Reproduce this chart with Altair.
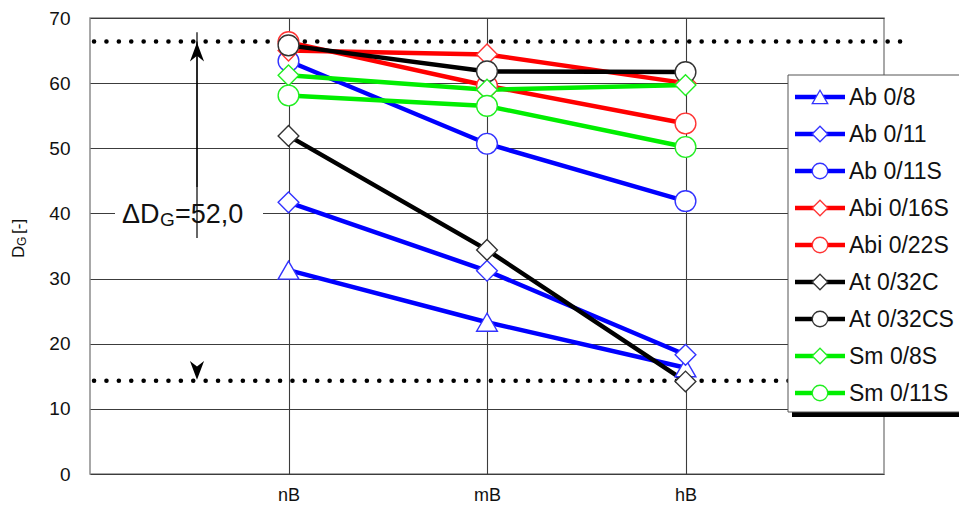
import altair as alt
import pandas as pd

# ---------------- data ----------------
categories = ["nB", "mB", "hB"]
series = ["Ab 0/8", "Ab 0/11", "Ab 0/11S", "Abi 0/16S", "Abi 0/22S",
          "At 0/32C", "At 0/32CS", "Sm 0/8S", "Sm 0/11S"]
ab_0_8 = [31.3, 23.3, 16.3]
ab_0_11 = [41.7, 31.2, 18.3]
ab_0_11s = [63.4, 50.7, 41.9]
abi_0_16s = [65.0, 64.4, 60.0]
abi_0_22s = [66.3, 59.6, 53.8]
at_0_32c = [51.9, 34.4, 14.2]
at_0_32cs = [65.8, 61.8, 61.7]
sm_0_8s = [61.2, 59.0, 59.7]
sm_0_11s = [58.1, 56.5, 50.2]
series_values = [ab_0_8, ab_0_11, ab_0_11s, abi_0_16s, abi_0_22s,
                 at_0_32c, at_0_32cs, sm_0_8s, sm_0_11s]

line_colors = ["#0000ff", "#0000ff", "#0000ff", "#ff0000", "#ff0000",
               "#000000", "#000000", "#00ee00", "#00ee00"]
marker_colors = ["#3333ff", "#3333ff", "#3333ff", "#ff3333", "#ff3333",
                 "#333333", "#333333", "#22ee22", "#22ee22"]
shapes = ["triangle-up", "diamond", "circle", "diamond", "circle",
          "diamond", "circle", "diamond", "circle"]

dg_max = 66.4
dg_min = 14.3
delta_label_value = "=52,0"
y_ticks = [0, 10, 20, 30, 40, 50, 60, 70]

FONT = "Liberation Sans"
W, H = 794, 456

rows = []
for i, (s, vals) in enumerate(zip(series, series_values)):
    for c, v in zip(categories, vals):
        rows.append({"series": s, "cat": c, "val": v, "idx": i})
df = pd.DataFrame(rows)

x_enc = alt.X("cat:O", scale=alt.Scale(type="point", padding=1, domain=categories),
              axis=alt.Axis(title=None, labelAngle=0, grid=True, gridColor="#3c3c3c",
                            gridWidth=1.1, domain=False, ticks=False, labelPadding=12,
                            labelFontSize=18, labelFont=FONT, labelColor="#111"))
y_enc = alt.Y("val:Q", scale=alt.Scale(domain=[0, 70], nice=False, zero=True),
              axis=alt.Axis(title=None, values=y_ticks, grid=True, gridColor="#3c3c3c",
                            gridWidth=1.1, domain=False, ticks=False, labelPadding=20,
                            labelFontSize=19, labelFont=FONT, labelColor="#111"))

base = alt.Chart(df)
lines = base.mark_line(strokeWidth=4.5).encode(
    x=x_enc, y=y_enc,
    color=alt.Color("series:N", scale=alt.Scale(domain=series, range=line_colors), legend=None),
    detail="series:N",
)
points = base.mark_point(filled=True, fill="white", strokeWidth=1.4, size=430, opacity=1).encode(
    x=x_enc, y=y_enc,
    stroke=alt.Stroke("series:N", scale=alt.Scale(domain=series, range=marker_colors), legend=None),
    shape=alt.Shape("series:N", scale=alt.Scale(domain=series, range=shapes), legend=None),
    order="idx:Q",
)

one = pd.DataFrame({"a": [0]})

# dotted reference lines
dots = []
for v in [dg_max, dg_min]:
    dots.append(alt.Chart(one).mark_rule(color="black", strokeWidth=4.5, strokeCap="round",
                                         strokeDash=[0.1, 12.3]).encode(
        x=alt.value(4), x2=alt.value(818), y=alt.datum(v)))

# white box behind annotation
white_box = alt.Chart(one).mark_rect(color="white").encode(
    x=alt.value(25), x2=alt.value(173), y=alt.value(184), y2=alt.value(208))

AX = 107
arrow_top = alt.Chart(one).mark_rule(color="black", strokeWidth=1.2).encode(
    x=alt.value(AX), y=alt.datum(dg_max), y2=alt.value(169))
arrow_bot = alt.Chart(one).mark_rule(color="black", strokeWidth=1.2).encode(
    x=alt.value(AX), y=alt.value(220), y2=alt.datum(dg_min))
head_up = alt.Chart(one).mark_point(shape="M0,0.1L0.62,1.75L0,1.25L-0.62,1.75Z", filled=True,
                                    color="black", size=520, opacity=1, strokeWidth=0).encode(
    x=alt.value(AX), y=alt.datum(dg_max))
head_dn = alt.Chart(one).mark_point(shape="M0,-0.1L0.62,-1.75L0,-1.25L-0.62,-1.75Z", filled=True,
                                    color="black", size=520, opacity=1, strokeWidth=0).encode(
    x=alt.value(AX), y=alt.datum(dg_min))

ann = [
    alt.Chart(one).mark_text(text="\u0394D", font=FONT, fontSize=27, align="left",
                             baseline="alphabetic", color="#111").encode(
        x=alt.value(32), y=alt.value(205)),
    alt.Chart(one).mark_text(text="G", font=FONT, fontSize=19, align="left",
                             baseline="alphabetic", color="#111").encode(
        x=alt.value(70), y=alt.value(208)),
    alt.Chart(one).mark_text(text=delta_label_value, font=FONT, fontSize=27, align="left",
                             baseline="alphabetic", color="#111").encode(
        x=alt.value(85), y=alt.value(205)),
]

# y-axis title  D_G [-]
ytitle = [
    alt.Chart(one).mark_text(text="D", font=FONT, fontSize=17, angle=270, align="left",
                             baseline="alphabetic", color="#111").encode(
        x=alt.value(-66), y=alt.value(240)),
    alt.Chart(one).mark_text(text="G", font=FONT, fontSize=12, angle=270, align="left",
                             baseline="alphabetic", color="#111").encode(
        x=alt.value(-64), y=alt.value(228)),
    alt.Chart(one).mark_text(text="[-]", font=FONT, fontSize=17, angle=270, align="left",
                             baseline="alphabetic", color="#111").encode(
        x=alt.value(-66), y=alt.value(216)),
]

# legend box
LX0, LY0 = 698, 57
legend = [
    alt.Chart(one).mark_rect(color="black").encode(
        x=alt.value(LX0 + 4), x2=alt.value(LX0 + 200), y=alt.value(LY0 + 4), y2=alt.value(LY0 + 342)),
    alt.Chart(one).mark_rect(fill="white", stroke="#555", strokeWidth=1).encode(
        x=alt.value(LX0), x2=alt.value(LX0 + 196), y=alt.value(LY0), y2=alt.value(LY0 + 337)),
]
for i, s in enumerate(series):
    py = 79 + 37 * i
    legend.append(alt.Chart(one).mark_rule(color=line_colors[i], strokeWidth=4.5).encode(
        x=alt.value(705), x2=alt.value(755), y=alt.value(py)))
    legend.append(alt.Chart(one).mark_point(shape=shapes[i], filled=True, fill="white",
                                            stroke=marker_colors[i], strokeWidth=1.3,
                                            size=240, opacity=1).encode(
        x=alt.value(730), y=alt.value(py)))
    legend.append(alt.Chart(one).mark_text(text=s, font=FONT, fontSize=23, align="left",
                                           baseline="middle", color="#111").encode(
        x=alt.value(759), y=alt.value(py + 1)))

chart = alt.layer(lines, *dots, white_box, arrow_top, arrow_bot, head_up, head_dn,
                  *ann, *ytitle, points, *legend).properties(
    width=W, height=H,
    autosize=alt.AutoSizeParams(type="none"),
    padding={"left": 82, "top": 10, "right": 75, "bottom": 30},
    background="white",
).configure_view(stroke="#8c8c8c", strokeWidth=1.5)

chart.save("out.html", embed_options={"renderer": "svg", "actions": False})
